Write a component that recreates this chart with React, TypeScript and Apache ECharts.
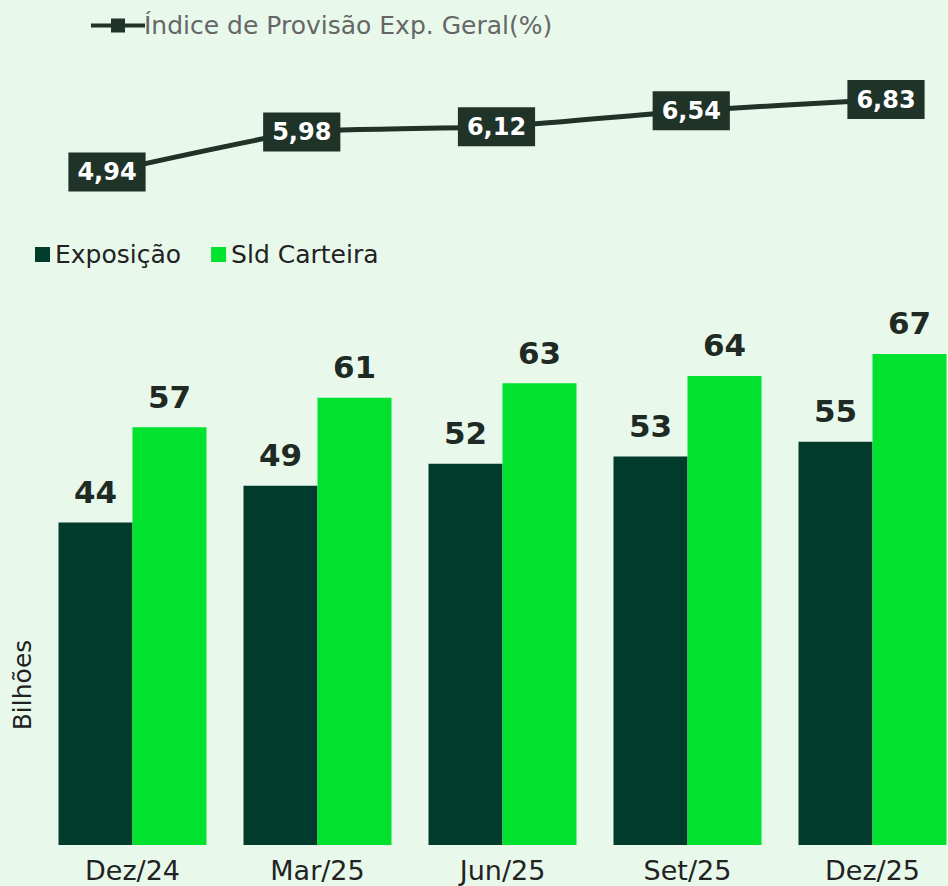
import React, { useEffect, useRef } from "react";
import * as echarts from "echarts";

const categories = ["Dez/24", "Mar/25", "Jun/25", "Set/25", "Dez/25"];
const indiceProvisao = [4.94, 5.98, 6.12, 6.54, 6.83];
const exposicao = [44, 49, 52, 53, 55];
const sldCarteira = [57, 61, 63, 64, 67];

const FONT = "DejaVu Sans";
const BG = "#e8f9ec";
const DARK_LINE = "#1f3329";
const DARK_BAR = "#003b2c";
const BRIGHT_BAR = "#00e22e";

const fmt = (v: number) => v.toFixed(2).replace(".", ",");

export default function App() {
  const ref = useRef<HTMLDivElement>(null);
  useEffect(() => {
    if (!ref.current) return;
    const chart = echarts.init(ref.current, null, { renderer: "svg" });
    chart.setOption({
      animation: false,
      backgroundColor: BG,
      textStyle: { fontFamily: FONT },
      legend: [
        {
          left: 86,
          top: 8,
          itemWidth: 54,
          itemHeight: 14,
          itemGap: 10,
          data: [{ name: "Índice de Provisão Exp. Geral(%)", icon: "path://M0,5 L20,5 L20,0 L34,0 L34,5 L54,5 L54,9 L34,9 L34,14 L20,14 L20,9 L0,9 Z" }],
          textStyle: { fontFamily: FONT, fontSize: 25, color: "#666666", padding: [0, 0, 0, -6] },
        },
        {
          left: 30,
          top: 237,
          itemWidth: 15,
          itemHeight: 15,
          itemGap: 30,
          data: [
            { name: "Exposição", icon: "rect" },
            { name: "Sld Carteira", icon: "rect" },
          ],
          textStyle: { fontFamily: FONT, fontSize: 25, color: "#222222" },
        },
      ],
      grid: [
        { left: 107, right: 62, top: 93, height: 115, outerBoundsMode: "none" },
        { left: 40, width: 925, top: 258.6, height: 586.4, outerBoundsMode: "none", containLabel: false },
      ],
      xAxis: [
        {
          gridIndex: 0,
          type: "category",
          data: categories,
          boundaryGap: false,
          show: false,
        },
        {
          gridIndex: 1,
          type: "category",
          data: categories,
          axisLine: { show: false },
          axisTick: { show: false },
          axisLabel: { fontFamily: FONT, fontSize: 27, color: "#222222", margin: 12 },
        },
      ],
      yAxis: [
        { gridIndex: 0, type: "value", min: 4, max: 7, show: false },
        { gridIndex: 1, type: "value", min: 0, max: 80, show: false },
      ],
      series: [
        {
          name: "Índice de Provisão Exp. Geral(%)",
          type: "line",
          xAxisIndex: 0,
          yAxisIndex: 0,
          data: indiceProvisao,
          smooth: 0.15,
          symbol: "rect",
          symbolSize: 14,
          itemStyle: { color: DARK_LINE },
          lineStyle: { color: DARK_LINE, width: 5 },
          label: {
            show: true,
            position: "inside",
            formatter: (p: any) => fmt(p.value),
            fontFamily: FONT,
            fontSize: 24,
            fontWeight: "bold",
            color: "#ffffff",
            backgroundColor: DARK_LINE,
            padding: [8, 9, 7, 9],
          },
        },
        {
          name: "Exposição",
          type: "bar",
          xAxisIndex: 1,
          yAxisIndex: 1,
          data: exposicao,
          barGap: "0%",
          barCategoryGap: "20%",
          itemStyle: { color: DARK_BAR },
          label: {
            show: true,
            position: "top",
            distance: 15,
            fontFamily: FONT,
            fontSize: 31,
            fontWeight: "bold",
            color: "#1f2a25",
          },
        },
        {
          name: "Sld Carteira",
          type: "bar",
          xAxisIndex: 1,
          yAxisIndex: 1,
          data: sldCarteira,
          barGap: "0%",
          barCategoryGap: "20%",
          itemStyle: { color: BRIGHT_BAR },
          label: {
            show: true,
            position: "top",
            distance: 15,
            fontFamily: FONT,
            fontSize: 31,
            fontWeight: "bold",
            color: "#1f2a25",
          },
        },
      ],
      graphic: [
        {
          type: "text",
          x: 22,
          y: 685,
          rotation: Math.PI / 2,
          style: {
            text: "Bilhões",
            fontFamily: FONT,
            fontSize: 25,
            fill: "#222222",
            align: "center",
            verticalAlign: "middle",
          },
        },
      ],
    });
    return () => chart.dispose();
  }, []);
  return <div ref={ref} style={{ width: 948, height: 886, position: "absolute", left: 0, top: 0 }} />;
}
